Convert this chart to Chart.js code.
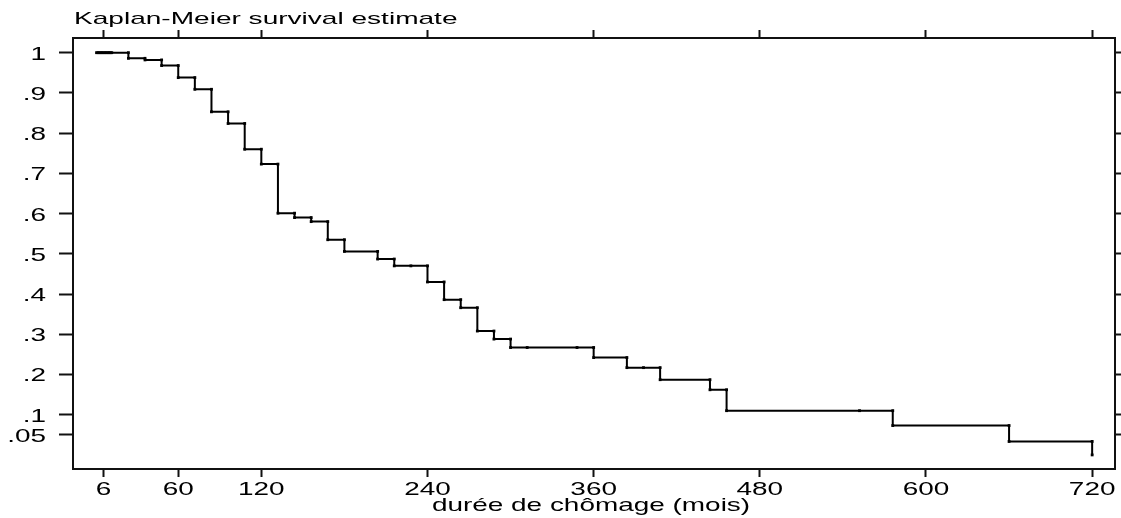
<!DOCTYPE html>
<html>
<head>
<meta charset="utf-8">
<title>Kaplan-Meier</title>
<script src="https://cdn.jsdelivr.net/npm/chart.js@4/dist/chart.umd.min.js"></script>
<style>
  body { margin: 0; background: #fff; }
  canvas { display: block; }
</style>
</head>
<body>
<canvas id="km" width="1121" height="518"></canvas>
<script>
// Data
const eventTimes = [24, 36, 48, 60, 72, 84, 96, 108, 120, 132, 144, 156, 168, 180, 204, 216,
  240, 252, 264, 276, 288, 300, 360, 384, 408, 444, 456, 576, 660, 720];
const survival = [0.986, 0.982, 0.968, 0.938, 0.909, 0.853, 0.824, 0.760, 0.723, 0.601, 0.590, 0.580, 0.535, 0.506, 0.487, 0.470,
  0.430, 0.386, 0.366, 0.308, 0.288, 0.267, 0.242, 0.217, 0.187, 0.162, 0.110, 0.073, 0.0335, 0.0];
const censoredTimes = [2, 3, 4, 5, 6, 7, 8, 9, 10, 11, 12, 228, 312, 348, 396, 552];
const startTime = 1;

const xTicks = [6, 60, 120, 240, 360, 480, 600, 720];
const yTicks = [1, 0.9, 0.8, 0.7, 0.6, 0.5, 0.4, 0.3, 0.2, 0.1, 0.05];
const yTickLabels = ["1", ".9", ".8", ".7", ".6", ".5", ".4", ".3", ".2", ".1", ".05"];

const titleText = "Kaplan-Meier survival estimate";
const xTitle = "durée de chômage (mois)";

// Build the step curve: two corners per event, one point per censored time
function buildSteps() {
  const pts = [{ x: startTime, y: 1 }];
  const marks = [];
  eventTimes.forEach((t, i) => marks.push({ t, type: "e", i }));
  censoredTimes.forEach(t => marks.push({ t, type: "c" }));
  marks.sort((a, b) => a.t - b.t);
  let cur = 1;
  for (const m of marks) {
    if (m.type === "c") {
      pts.push({ x: m.t, y: cur });
    } else {
      pts.push({ x: m.t, y: cur });
      cur = survival[m.i];
      pts.push({ x: m.t, y: cur });
    }
  }
  return pts;
}

const FONT = '"Liberation Sans", Arial, sans-serif';

// old-style graph text is stretched sideways, so draw it scaled
function wideText(ctx, text, x, y, size, sx, align) {
  ctx.save();
  ctx.font = size + "px " + FONT;
  ctx.fillStyle = "#000";
  ctx.textAlign = align;
  ctx.textBaseline = "alphabetic";
  ctx.translate(x, y);
  ctx.scale(sx, 1);
  ctx.fillText(text, 0, 0);
  ctx.restore();
}

const textPlugin = {
  id: "wideLabels",
  afterDraw(chart) {
    const ctx = chart.ctx;
    const xs = chart.scales.x;
    const ys = chart.scales.y;
    const area = chart.chartArea;
    wideText(ctx, titleText, area.left + 1, 24, 17, 1.65, "left");
    xTicks.forEach(v => wideText(ctx, String(v), xs.getPixelForValue(v), 495, 19, 1.47, "center"));
    yTicks.forEach((v, i) => wideText(ctx, yTickLabels[i], 46, ys.getPixelForValue(v) + 7, 19, 1.47, "right"));
    wideText(ctx, xTitle, (area.left + area.right) / 2 - 3, 511, 19, 1.47, "center");
  }
};

function axis(position, tickLen, size, ticks, min, max) {
  return {
    type: "linear",
    position: position,
    min: min,
    max: max,
    border: { display: true, color: "#111", width: 2 },
    grid: { drawOnChartArea: false, drawTicks: true, tickLength: tickLen, tickWidth: 2, tickColor: "#111" },
    ticks: { display: false },
    afterBuildTicks: s => { s.ticks = ticks.map(v => ({ value: v })); },
    afterFit: s => {
      if (position === "left" || position === "right") s.width = size;
      else s.height = size;
    }
  };
}

const xMin = -16, xMax = 736.5;
const yMin = -0.035, yMax = 1.0365;

new Chart(document.getElementById("km"), {
  type: "line",
  data: {
    datasets: [{
      data: buildSteps(),
      borderColor: "#000",
      borderWidth: 2,
      tension: 0,
      pointStyle: "rect",
      pointRadius: 2,
      pointBorderWidth: 0,
      pointBackgroundColor: "#000"
    }]
  },
  options: {
    responsive: false,
    animation: false,
    layout: { padding: 0 },
    plugins: { legend: { display: false }, tooltip: { enabled: false } },
    scales: {
      x: axis("bottom", 8, 49, xTicks, xMin, xMax),
      x2: axis("top", 8, 38, xTicks, xMin, xMax),
      y: axis("left", 14, 73, yTicks, yMin, yMax),
      y2: axis("right", 6, 6, yTicks, yMin, yMax)
    }
  },
  plugins: [textPlugin]
});
</script>
</body>
</html>
